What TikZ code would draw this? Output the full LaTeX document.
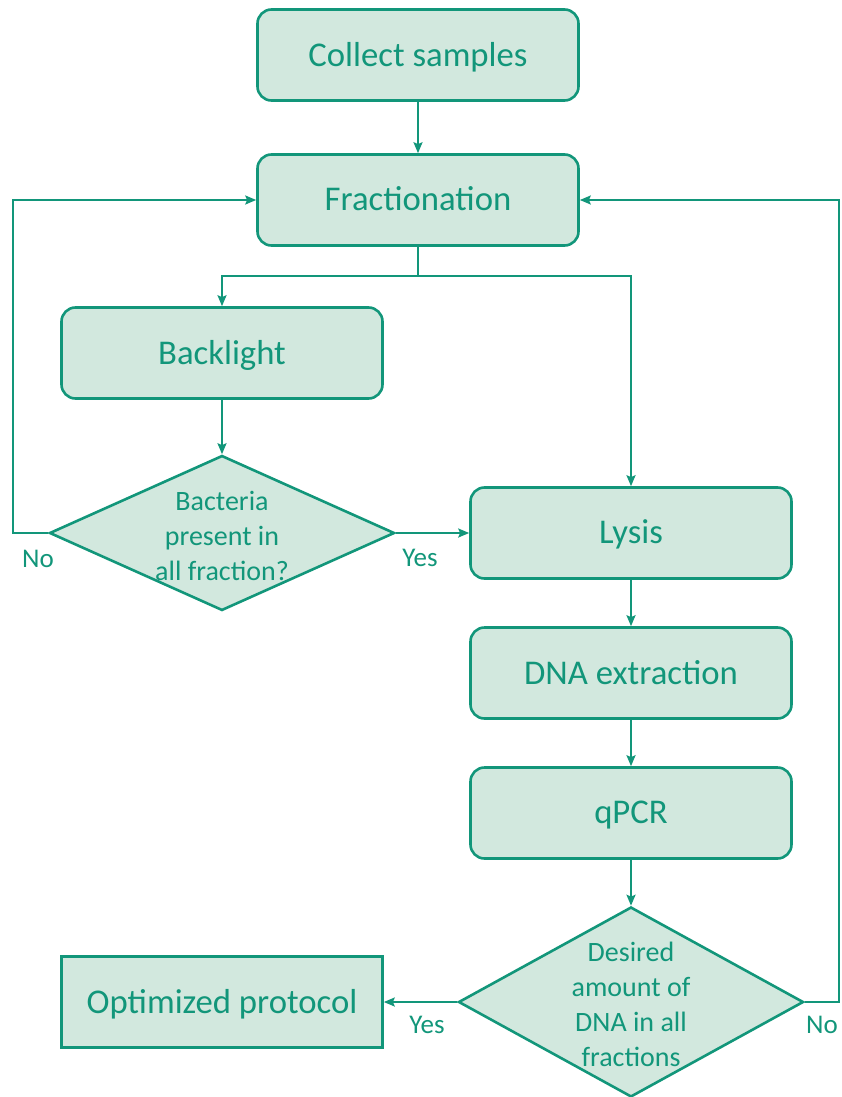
\documentclass[tikz,border=0pt]{standalone}
\usepackage{fontspec}
\setmainfont{Carlito}
\usetikzlibrary{shapes.geometric,arrows.meta}
\definecolor{teal1}{RGB}{18,150,122}
\definecolor{fillg}{RGB}{210,232,222}
\begin{document}
\begin{tikzpicture}[x=1pt,y=-1pt,
  box/.style={draw=teal1, fill=fillg, line width=2.6pt, rounded corners=14pt,
    minimum width=321pt, minimum height=91pt, inner sep=0pt, text=teal1,
    font=\fontsize{34.7}{40}\selectfont, text depth=2pt},
  sqbox/.style={box, rounded corners=0pt},
  dia/.style={draw=teal1, fill=fillg, line width=2.6pt, shape=diamond,
    inner sep=0pt},
  diatext/.style={text=teal1, align=center, font=\fontsize{28}{35}\selectfont},
  lab/.style={text=teal1, font=\fontsize{27}{32}\selectfont},
  arr/.style={draw=teal1, line width=2.2pt, -{Stealth[length=11pt,width=9pt,inset=2pt]}},
  ln/.style={draw=teal1, line width=2.2pt}]
\useasboundingbox (0,0) rectangle (841,1097);

\node[box] (cs) at (418,55) {Collect samples};
\node[box] (fr) at (418,200) {Fractionation};
\node[box] (bl) at (222,353) {Backlight};
\node[dia, minimum width=345pt, minimum height=155pt] (d1) at (222,533) {};
\node[diatext] (d1t) at (222,536) {Bacteria\\present in\\all fraction?};
\node[box] (ly) at (631,533) {Lysis};
\node[box] (dn) at (631,673) {DNA extraction};
\node[box] (qp) at (631,813) {qPCR};
\node[dia, minimum width=345pt, minimum height=190pt] (d2) at (631,1002) {};
\node[diatext] (d2t) at (631,1004) {Desired\\amount of\\DNA in all\\fractions};
\node[sqbox] (op) at (222,1002) {Optimized protocol};

\coordinate (sp) at (418,276);
\coordinate (lx) at (13,0);
\coordinate (rx) at (839,0);

\draw[arr] (cs.south) -- (fr.north);
\draw[ln] (fr.south) -- (sp);
\draw[arr] (sp) -| (bl.north);
\draw[arr] (sp) -| (ly.north);
\draw[arr] (bl.south) -- (d1.north);
\draw[arr] (d1.east) -- (ly.west);
\draw[arr] (d1.west) -- (d1.west -| lx) |- (fr.west);
\draw[arr] (ly.south) -- (dn.north);
\draw[arr] (dn.south) -- (qp.north);
\draw[arr] (qp.south) -- (d2.north);
\draw[arr] (d2.west) -- (op.east);
\draw[arr] (d2.east) -- (d2.east -| rx) |- (fr.east);

\node[lab] (n1) at (38,559) {No};
\node[lab] (y1) at (420,558) {Yes};
\node[lab] (y2) at (427,1025) {Yes};
\node[lab] (n2) at (822,1025) {No};
\end{tikzpicture}
\end{document}
